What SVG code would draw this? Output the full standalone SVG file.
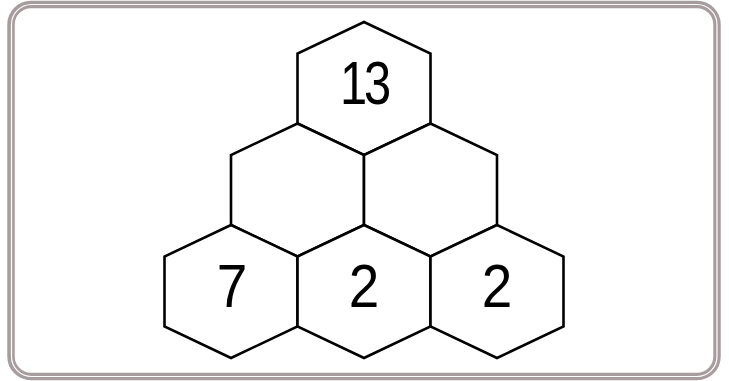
<svg xmlns="http://www.w3.org/2000/svg" width="729" height="381" viewBox="0 0 729 381">
<style>
.hex{fill:#fff;stroke:#000;stroke-width:2.6;stroke-linejoin:miter}
.num{font-family:"Liberation Sans",Arial,sans-serif;font-size:61px;fill:#000;text-anchor:middle}
.frame{fill:none;stroke:#a89d9e;stroke-width:7.5}
.frame2{fill:none;stroke:#fff;stroke-width:1.2}
</style>
<defs>
<polygon id="h" points="0,0 66.5,31.5 66.5,101.5 0,133 -66.5,101.5 -66.5,31.5"/>
</defs>
<rect width="729" height="381" fill="#fff"/>
<g id="frame">
<rect class="frame" x="11" y="4.5" width="706" height="372" rx="20"/>
<rect class="frame2" x="11.5" y="4.5" width="705.5" height="372" rx="20"/>
</g>
<g id="hex-top"><use href="#h" class="hex" x="364" y="22"/><text class="num" x="364" y="104" transform="translate(364 0) scale(0.8 1) translate(-364 0)" letter-spacing="-4">13</text></g>
<g id="hex-mid-left"><use href="#h" class="hex" x="297.5" y="123.5"/></g>
<g id="hex-mid-right"><use href="#h" class="hex" x="430.5" y="123.5"/></g>
<g id="hex-bot-left"><use href="#h" class="hex" x="231" y="225"/><text class="num" x="232" y="307" transform="translate(232 0) scale(0.9 1) translate(-232 0)">7</text></g>
<g id="hex-bot-mid"><use href="#h" class="hex" x="364" y="225"/><text class="num" x="364" y="307" transform="translate(364 0) scale(0.9 1) translate(-364 0)">2</text></g>
<g id="hex-bot-right"><use href="#h" class="hex" x="497" y="225"/><text class="num" x="497" y="307" transform="translate(497 0) scale(0.9 1) translate(-497 0)">2</text></g>
</svg>
